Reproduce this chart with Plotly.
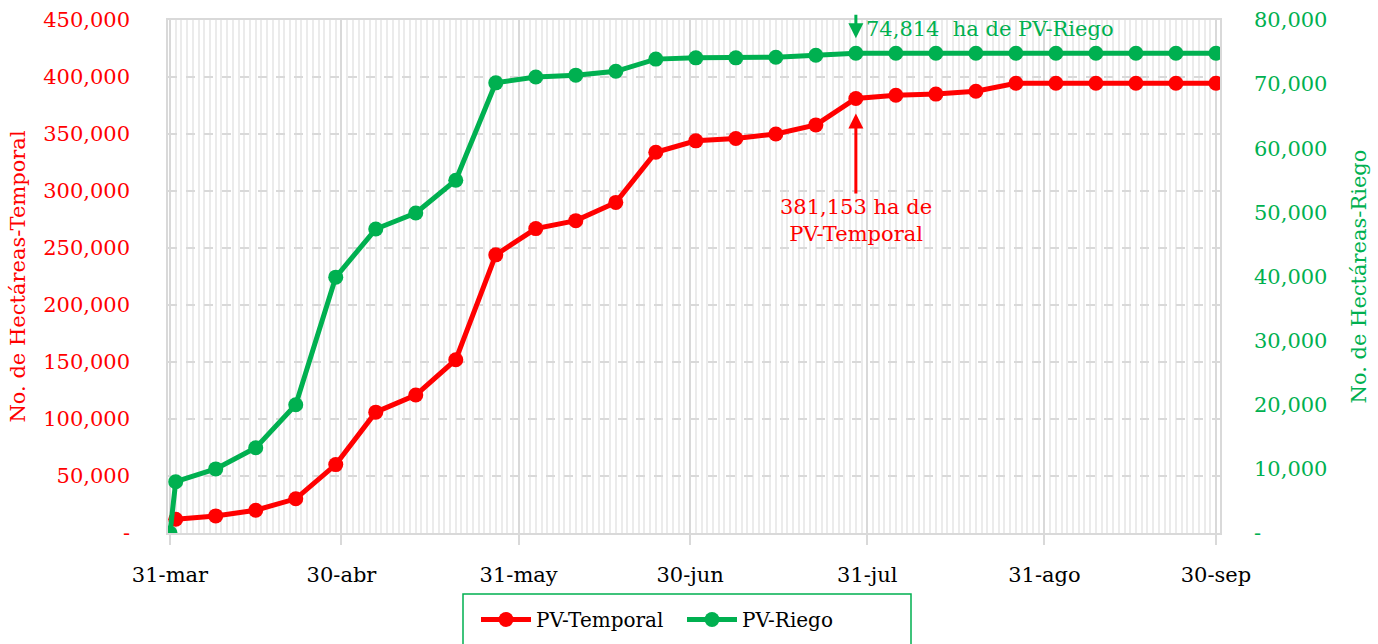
import plotly.graph_objects as go

# ---- data ----
temporal_dates = ["2022-04-01", "2022-04-08", "2022-04-15", "2022-04-22", "2022-04-29",
                  "2022-05-06", "2022-05-13", "2022-05-20", "2022-05-27", "2022-06-03",
                  "2022-06-10", "2022-06-17", "2022-06-24", "2022-07-01", "2022-07-08",
                  "2022-07-15", "2022-07-22", "2022-07-29", "2022-08-05", "2022-08-12",
                  "2022-08-19", "2022-08-26", "2022-09-02", "2022-09-09", "2022-09-16",
                  "2022-09-23", "2022-09-30"]
temporal_vals = [12000, 15000, 20000, 30000, 60000,
                 106000, 121000, 152000, 244000, 267000,
                 274000, 290000, 334000, 344000, 346000,
                 350000, 358000, 381153, 384000, 385000,
                 387500, 394500, 394500, 394500, 394500,
                 394500, 394500]

riego_dates = ["2022-03-31"] + temporal_dates
riego_vals = [0, 8000, 10000, 13300, 20000, 39900,
              47400, 49900, 55000, 70200, 71100,
              71400, 72000, 73900, 74100, 74100,
              74200, 74500, 74814, 74814, 74814,
              74814, 74814, 74814, 74814, 74814,
              74814, 74814]

x_tickvals = ["2022-03-31", "2022-04-30", "2022-05-31", "2022-06-30",
              "2022-07-31", "2022-08-31", "2022-09-30"]
x_ticktext = ["31-mar", "30-abr", "31-may", "30-jun", "31-jul", "31-ago", "30-sep"]

y1_tickvals = [0, 50000, 100000, 150000, 200000, 250000, 300000, 350000, 400000, 450000]
y1_ticktext = ["-", "50,000", "100,000", "150,000", "200,000", "250,000",
               "300,000", "350,000", "400,000", "450,000"]
y2_tickvals = [0, 10000, 20000, 30000, 40000, 50000, 60000, 70000, 80000]
y2_ticktext = ["-", "10,000", "20,000", "30,000", "40,000", "50,000",
               "60,000", "70,000", "80,000"]

annot_date = "2022-07-29"
annot_temporal = 381153
annot_riego = 74814

RED = "#FF0000"
GREEN = "#00B050"
FONT = "DejaVu Serif"
FS = 21
W, H = 1378, 644

fig = go.Figure()
fig.add_trace(go.Scatter(x=temporal_dates, y=temporal_vals, name="PV-Temporal",
                         mode="lines+markers", line=dict(color=RED, width=5),
                         marker=dict(color=RED, size=15), yaxis="y"))
fig.add_trace(go.Scatter(x=riego_dates, y=riego_vals, name="PV-Riego",
                         mode="lines+markers", line=dict(color=GREEN, width=5),
                         marker=dict(color=GREEN, size=15), yaxis="y2"))

fig.update_layout(
    width=W, height=H,
    margin=dict(l=168, r=158, t=20, b=111, autoexpand=False),
    plot_bgcolor="white", paper_bgcolor="white",
    font=dict(family=FONT, size=FS, color="black"),
    showlegend=True,
    legend=dict(orientation="h", xref="container", x=476 / W, xanchor="left",
                yref="container", y=(H - 600) / H, yanchor="top", borderwidth=0,
                font=dict(size=20, color="black"),
                entrywidth=141, itemwidth=50),
    xaxis=dict(type="date", range=["2022-03-30 15:36", "2022-09-30 17:00"],
               tickvals=x_tickvals, ticktext=x_ticktext,
               showgrid=True, gridcolor="#d9d9d9", gridwidth=1.5,
               ticks="outside", ticklen=10, tickcolor="#d9d9d9", tickwidth=1.5,
               ticklabelstandoff=12,
               minor=dict(dtick=86400000, tick0="2022-03-31", showgrid=True,
                          gridcolor="#ebebeb", gridwidth=1.5, ticks=""),
               showline=True, linecolor="#d9d9d9", linewidth=1.5, mirror=True,
               tickfont=dict(size=FS, color="black")),
    yaxis=dict(range=[0, 450000], tickvals=y1_tickvals, ticktext=y1_ticktext,
               showgrid=True, gridcolor="#d9d9d9", gridwidth=1.5, griddash="dash",
               zeroline=False, showline=True, linecolor="#d9d9d9", linewidth=1.5, mirror=True,
               ticks="", ticklabelstandoff=32,
               tickfont=dict(color=RED, size=FS),
               title=dict(text="No. de Hectáreas-Temporal", font=dict(color=RED, size=FS),
                          standoff=12)),
    yaxis2=dict(range=[0, 80000], tickvals=y2_tickvals, ticktext=y2_ticktext,
                overlaying="y", side="right", showgrid=False, zeroline=False,
                ticks="", ticklabelstandoff=33,
                tickfont=dict(color=GREEN, size=FS),
                title=dict(text="No. de Hectáreas-Riego", font=dict(color=GREEN, size=FS),
                           standoff=24)),
)

# legend frame
fig.add_shape(type="rect", xref="paper", yref="paper",
              x0=(463 - 168) / 1052, x1=(911 - 168) / 1052,
              y0=-0.24, y1=(533 - 594) / 513,
              line=dict(color=GREEN, width=1.5), fillcolor="rgba(0,0,0,0)")

# red arrow + label
fig.add_annotation(x=annot_date, y=annot_temporal, xref="x", yref="y",
                   text="381,153 ha de<br>PV-Temporal", showarrow=True,
                   ax=0, ay=122, arrowhead=2, arrowsize=1, arrowwidth=3,
                   arrowcolor=RED, standoff=15,
                   font=dict(color=RED, size=FS, family=FONT))
# green arrow
fig.add_annotation(x=annot_date, y=annot_riego, xref="x", yref="y2",
                   text="", showarrow=True, ax=0, ay=-40, arrowhead=2,
                   arrowsize=1, arrowwidth=3, arrowcolor=GREEN, standoff=15)
fig.add_annotation(x="2022-07-30 12:00", y=annot_riego, xref="x", yref="y2",
                   text="74,814\u00a0 ha de PV-Riego", showarrow=False,
                   xanchor="left", yanchor="middle", yshift=24,
                   font=dict(color=GREEN, size=FS, family=FONT))

fig.write_html("out.html", config={"displayModeBar": False},
               post_script="document.body.style.margin='0';")
